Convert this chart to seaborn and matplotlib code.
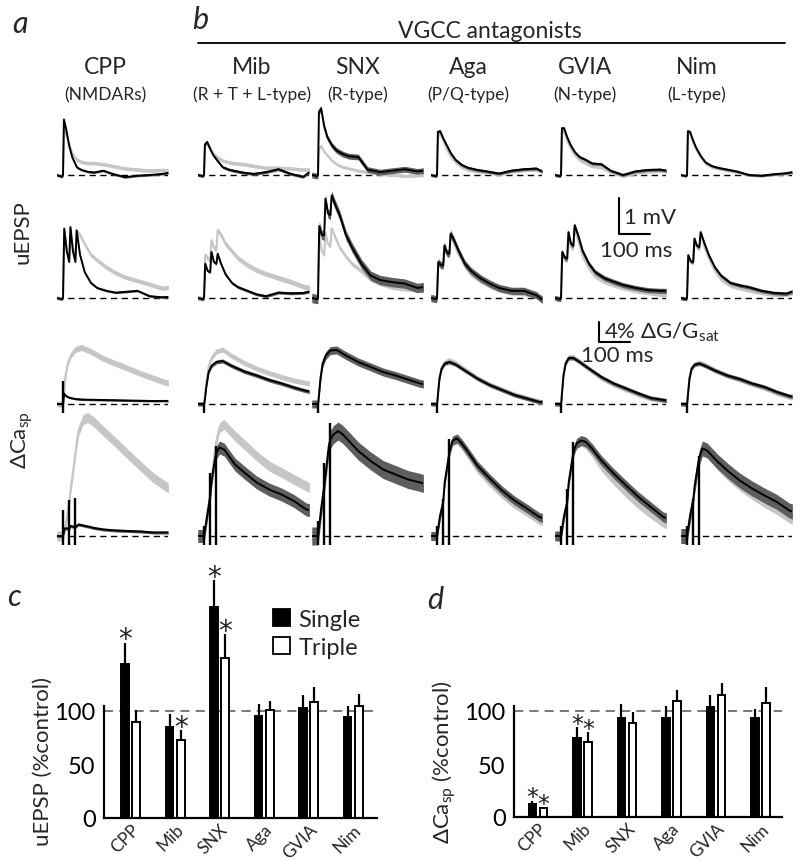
import numpy as np
import pandas as pd
import matplotlib
matplotlib.use("Agg")
import matplotlib.pyplot as plt
import seaborn as sns
from matplotlib.patches import Patch

sns.set_theme(style="white")
plt.rcParams["font.family"] = ["Lato", "DejaVu Sans"]
plt.rcParams["mathtext.fontset"] = "custom"
plt.rcParams["mathtext.rm"] = "Lato"
plt.rcParams["mathtext.it"] = "Lato:italic"

# ---------------- data ----------------
DRUGS = ["CPP", "Mib", "SNX", "Aga", "GVIA", "Nim"]
TARGETS = ["(NMDARs)", "(R + T + L-type)", "(R-type)", "(P/Q-type)", "(N-type)", "(L-type)"]

# uEPSP, single stimulus (mV), one list per drug column
T_EPSP1 = [-20, -3, 0, 3, 10, 20, 30, 45, 60, 80, 100, 130, 160, 200, 240, 280, 320, 340]
EPSP1_CTRL = [
    [0, -0.03, 0, 1.3, 1.15, 0.85, 0.6, 0.42, 0.36, 0.33, 0.33, 0.3, 0.25, 0.18, 0.15, 0.12, 0.14, 0.12],
    [0, -0.02, 0, 0.8, 0.9, 0.75, 0.6, 0.48, 0.4, 0.35, 0.32, 0.3, 0.25, 0.2, 0.2, 0.18, 0.15, 0.15],
    [0, -0.02, 0, 0.75, 0.8, 0.65, 0.55, 0.4, 0.3, 0.22, 0.18, 0.12, 0.08, 0.03, 0.0, -0.03, -0.02, 0.0],
    [0, -0.02, 0, 1.1, 1.15, 0.95, 0.75, 0.5, 0.35, 0.22, 0.15, 0.1, 0.08, 0.03, 0.1, 0.14, 0.15, 0.08],
    [0, -0.02, 0, 1.2, 1.2, 0.95, 0.75, 0.55, 0.42, 0.33, 0.25, 0.22, 0.08, -0.02, 0.06, 0.1, 0.12, 0.1],
    [0, -0.02, 0, 1.15, 1.15, 0.9, 0.7, 0.48, 0.32, 0.22, 0.18, 0.13, 0.08, 0.0, -0.02, 0.02, 0.04, 0.06],
]
EPSP1_DRUG = [
    [0, -0.05, 0, 1.54, 1.28, 0.81, 0.49, 0.21, 0.14, 0.09, 0.07, 0.12, 0.03, -0.06, -0.02, 0.0, 0.03, 0.06],
    [0, -0.03, 0, 0.85, 0.92, 0.72, 0.55, 0.38, 0.22, 0.15, 0.11, 0.06, 0.03, 0.08, 0.16, 0.03, -0.05, 0.08],
    [0, -0.03, 0, 1.75, 1.85, 1.35, 1.05, 0.82, 0.68, 0.58, 0.52, 0.5, 0.15, 0.08, 0.12, 0.16, 0.1, 0.12],
    [0, -0.03, 0, 1.2, 1.22, 1.02, 0.85, 0.6, 0.42, 0.28, 0.2, 0.14, 0.1, 0.04, 0.12, 0.16, 0.18, 0.1],
    [0, -0.03, 0, 1.3, 1.3, 1.05, 0.85, 0.63, 0.5, 0.42, 0.32, 0.3, 0.12, 0.0, 0.1, 0.14, 0.15, 0.12],
    [0, -0.03, 0, 1.22, 1.2, 0.95, 0.75, 0.52, 0.35, 0.25, 0.2, 0.15, 0.1, 0.0, -0.02, 0.02, 0.05, 0.08],
]
EPSP1_SEM_CTRL = [0.05, 0.05, 0.04, 0.05, 0.05, 0.04]
EPSP1_SEM_DRUG = [0.03, 0.04, 0.08, 0.04, 0.04, 0.03]

# uEPSP, triple stimulus (mV)
T_EPSP3 = [-20, -3, 0, 4, 12, 20, 24, 32, 40, 44, 55, 70, 90, 110, 140, 170, 200, 240, 280, 320, 340]
EPSP3_CTRL = [
    [0, -0.02, 0, 1.85, 1.4, 1.1, 1.9, 1.4, 1.15, 1.85, 1.75, 1.5, 1.2, 1.05, 0.85, 0.7, 0.58, 0.48, 0.38, 0.27, 0.3],
    [0, -0.02, 0, 1.2, 1.1, 1.05, 1.6, 1.4, 1.35, 1.88, 1.75, 1.5, 1.3, 1.1, 0.92, 0.77, 0.67, 0.56, 0.45, 0.32, 0.28],
    [0, -0.02, 0, 1.8, 1.3, 1.2, 1.8, 1.5, 1.45, 1.93, 1.7, 1.4, 1.15, 0.95, 0.75, 0.52, 0.4, 0.3, 0.25, 0.22, 0.2],
    [0, -0.02, 0, 0.95, 0.9, 0.88, 1.4, 1.2, 1.2, 1.75, 1.5, 1.2, 0.88, 0.65, 0.47, 0.33, 0.22, 0.14, 0.12, 0.05, 0.0],
    [0, -0.02, 0, 1.2, 1.05, 1.05, 1.75, 1.4, 1.4, 1.95, 1.6, 1.15, 0.82, 0.6, 0.45, 0.36, 0.28, 0.2, 0.15, 0.1, 0.1],
    [0, -0.02, 0, 1.1, 1.0, 0.98, 1.6, 1.4, 1.38, 1.8, 1.45, 1.1, 0.75, 0.52, 0.35, 0.28, 0.22, 0.15, 0.1, 0.1, 0.14],
]
EPSP3_DRUG = [
    [0, -0.03, 0, 1.93, 1.3, 1.0, 1.97, 1.3, 1.0, 1.88, 1.2, 0.72, 0.42, 0.28, 0.2, 0.15, 0.17, 0.2, 0.05, 0.02, 0.03],
    [0, -0.03, 0, 0.95, 0.75, 0.72, 1.28, 1.0, 0.95, 1.23, 0.95, 0.65, 0.42, 0.3, 0.2, 0.1, 0.05, 0.15, 0.13, 0.14, 0.18],
    [0, -0.03, 0, 2.0, 1.75, 1.74, 2.76, 2.35, 2.3, 2.85, 2.6, 2.3, 1.75, 1.4, 0.95, 0.62, 0.5, 0.44, 0.4, 0.28, 0.3],
    [0, -0.03, 0, 1.0, 0.92, 0.9, 1.46, 1.25, 1.23, 1.79, 1.6, 1.3, 0.95, 0.75, 0.55, 0.4, 0.28, 0.2, 0.2, 0.08, -0.05],
    [0, -0.03, 0, 1.28, 1.12, 1.1, 1.83, 1.5, 1.46, 2.02, 1.75, 1.3, 0.95, 0.72, 0.55, 0.45, 0.36, 0.28, 0.22, 0.2, 0.2],
    [0, -0.03, 0, 1.19, 1.02, 1.0, 1.65, 1.45, 1.42, 1.83, 1.55, 1.2, 0.85, 0.62, 0.42, 0.35, 0.3, 0.2, 0.14, 0.12, 0.18],
]
EPSP3_SEM_CTRL = [0.06, 0.07, 0.06, 0.06, 0.06, 0.06]
EPSP3_SEM_DRUG = [0.03, 0.04, 0.13, 0.1, 0.07, 0.05]

# spine Ca, single stimulus (% dG/Gsat)
T_CA1 = [-20, -2, 0, 0.5, 3, 8, 15, 25, 40, 60, 90, 130, 170, 210, 250, 290, 330, 340]
CA1_CTRL = [
    [0, 0, 0, 0, 1.5, 5.5, 8.0, 9.7, 10.9, 11.3, 10.5, 9.1, 8.1, 7.1, 6.1, 5.2, 4.3, 4.2],
    [0, 0, 0, 0, 1.2, 4.5, 7.5, 9.3, 10.5, 10.9, 9.6, 8.2, 7.1, 6.2, 5.4, 4.7, 4.2, 4.1],
    [0, 0, 0, 0, 1.6, 5.0, 8.0, 9.6, 10.6, 10.7, 9.6, 8.3, 7.3, 6.3, 5.6, 4.8, 4.0, 3.9],
    [0, 0, 0, 0, 1.8, 5.3, 7.3, 8.4, 8.8, 8.2, 6.9, 5.2, 3.9, 2.9, 1.9, 1.2, 0.5, 0.4],
    [0, 0, 0, 0, 2.0, 5.8, 8.3, 9.4, 9.4, 8.5, 7.0, 5.2, 3.9, 2.9, 1.9, 1.1, 0.7, 0.6],
    [0, 0, 0, 0, 1.8, 5.2, 7.2, 8.0, 8.3, 7.8, 6.8, 5.7, 4.9, 4.0, 3.2, 2.2, 1.4, 1.3],
]
CA1_DRUG = [
    [0, 0, 0, 0, 2.1, 1.7, 1.4, 1.2, 1.0, 0.9, 0.85, 0.8, 0.75, 0.7, 0.65, 0.6, 0.62, 0.6],
    [0, 0, 0, 0, 1.0, 3.7, 6.4, 7.7, 8.4, 8.6, 7.6, 6.5, 5.7, 4.8, 4.1, 3.3, 2.6, 2.5],
    [0, 0, 0, 0, 1.7, 5.1, 8.1, 9.7, 10.7, 10.8, 9.7, 8.4, 7.4, 6.4, 5.7, 4.9, 4.1, 4.0],
    [0, 0, 0, 0, 1.8, 5.1, 7.1, 8.1, 8.4, 7.9, 6.7, 5.1, 3.8, 2.8, 1.8, 1.1, 0.4, 0.4],
    [0, 0, 0, 0, 2.0, 5.7, 8.1, 9.2, 9.2, 8.4, 7.1, 5.4, 4.1, 3.1, 2.1, 1.2, 0.8, 0.7],
    [0, 0, 0, 0, 1.8, 5.1, 7.1, 7.9, 8.1, 7.6, 6.7, 5.7, 5.0, 4.1, 3.4, 2.4, 1.6, 1.5],
]
CA1_SEM_CTRL = [0.6, 0.5, 0.5, 0.5, 0.5, 0.5]
CA1_SEM_DRUG = [0.2, 0.4, 0.8, 0.4, 0.4, 0.4]
CA1_ART_TOP = [[4.7], [0.0], [0.0], [0.0], [0.0], [0.0]]

# spine Ca, triple stimulus (% dG/Gsat)
T_CA3 = [-20, -2, 0, 5, 10, 20, 25, 35, 40, 50, 65, 80, 100, 130, 170, 210, 250, 290, 330, 340]
CA3_CTRL = [
    [0, 0, 0, 1.0, 2.7, 6.7, 9.5, 14.0, 16.7, 21.0, 23.3, 23.7, 22.8, 21.0, 18.7, 16.3, 14.0, 11.7, 10.0, 9.6],
    [0, 0, 0, 2.0, 4.2, 8.5, 12.0, 17.0, 19.0, 21.7, 22.3, 21.3, 20.0, 18.3, 16.0, 14.0, 12.7, 11.3, 10.0, 9.7],
    [0, 0, 0, 2.5, 5.3, 10.0, 12.7, 18.0, 19.5, 20.8, 21.5, 21.0, 19.8, 17.8, 15.5, 13.5, 12.0, 10.8, 10.0, 9.8],
    [0, 0, 0, 2.0, 4.0, 6.7, 10.6, 14.6, 16.5, 18.8, 19.2, 18.0, 16.2, 13.4, 10.7, 8.3, 6.3, 4.7, 3.1, 2.9],
    [0, 0, 0, 2.0, 4.0, 6.7, 10.6, 14.6, 16.6, 18.3, 18.8, 18.2, 16.6, 13.8, 11.0, 8.5, 6.2, 4.3, 2.5, 2.3],
    [0, 0, 0, 2.0, 4.0, 7.0, 10.0, 14.0, 15.6, 17.2, 16.6, 15.4, 14.0, 12.1, 10.0, 8.2, 6.6, 5.2, 3.5, 3.3],
]
CA3_DRUG = [
    [0, 0, 0, 1.5, 1.5, 1.5, 2.0, 1.8, 1.8, 2.3, 2.1, 1.9, 1.6, 1.3, 1.1, 1.0, 0.9, 0.7, 0.7, 0.7],
    [0, 0, 0, 2.0, 4.0, 8.0, 11.3, 15.3, 16.7, 17.7, 17.3, 16.0, 14.3, 12.7, 10.7, 9.3, 8.3, 7.0, 5.3, 5.2],
    [0, 0, 0, 2.5, 5.3, 10.0, 12.7, 18.0, 19.3, 20.3, 21.0, 20.3, 19.0, 17.0, 15.0, 13.3, 12.3, 11.3, 10.7, 10.5],
    [0, 0, 0, 2.0, 4.1, 6.8, 10.8, 14.8, 16.8, 19.1, 19.5, 18.5, 16.8, 14.1, 11.5, 9.1, 7.1, 5.5, 3.8, 3.6],
    [0, 0, 0, 2.0, 4.1, 6.8, 10.8, 14.8, 16.8, 18.5, 19.1, 18.8, 17.5, 15.1, 12.5, 10.1, 7.8, 5.8, 3.8, 3.6],
    [0, 0, 0, 2.0, 4.1, 7.1, 10.1, 14.1, 15.8, 17.5, 17.1, 16.1, 14.8, 13.1, 11.1, 9.5, 8.1, 6.8, 5.1, 4.9],
]
CA3_SEM_CTRL = [1.0, 1.0, 1.0, 0.8, 0.8, 0.9]
CA3_SEM_DRUG = [0.3, 1.3, 1.8, 0.9, 1.0, 1.5]
CA3_ART_TOP = [[5.3, 7.3, 7.7], [2.0, 12.7, 18.0], [3.0, 14.7, 22.7],
               [2.0, 7.5, 19.5], [2.0, 9.5, 18.8], [2.0, 7.5, 16.1]]
STIM_TIMES = [0, 20, 40]
ART_BOTTOM = -1.7

# summary bars (% of control) and one-sided SEM
EPSP_SINGLE = [144, 85, 197, 95, 103, 94]
EPSP_SINGLE_ERR = [20, 12, 25, 12, 12, 11]
EPSP_TRIPLE = [90, 73, 150, 101, 108, 105]
EPSP_TRIPLE_ERR = [11, 9, 22, 8, 14, 11]
EPSP_SIG_SINGLE = [True, False, True, False, False, False]
EPSP_SIG_TRIPLE = [False, True, True, False, False, False]

CA_SINGLE = [12.5, 75, 93, 93, 104, 93]
CA_SINGLE_ERR = [3, 10, 14, 12, 11, 9]
CA_TRIPLE = [8.5, 71, 89, 109, 115, 108]
CA_TRIPLE_ERR = [1, 9, 10, 11, 11, 15]
CA_SIG_SINGLE = [True, True, False, False, False, False]
CA_SIG_TRIPLE = [True, True, False, False, False, False]

# ---------------- layout (pixels) ----------------
W, H = 800, 862
GREY = "#c6c6c6"
DARK = "#5e5e5e"
COL_X = [63, 204, 318, 437, 561, 687]   # stimulus onset of each column
PX_PER_MS = 0.31
MV_PX = 36
PCT_PX = 5
T_MIN, T_MAX = -20, 340

fig = plt.figure(figsize=(W / 100, H / 100), dpi=100)


def px_axes(left, top, width, height):
    return fig.add_axes([left / W, 1 - (top + height) / H, width / W, height / H])


def trace_panel(col, tgrid, ctrl, drug, sc, sd, ylim, base_px, unit_px, arts=None):
    left = COL_X[col] + T_MIN * PX_PER_MS
    top = base_px - ylim[1] * unit_px
    ax = px_axes(left, top, (T_MAX - T_MIN) * PX_PER_MS, (ylim[1] - ylim[0]) * unit_px)
    ax.set_xlim(T_MIN, T_MAX)
    ax.set_ylim(*ylim)
    ax.axis("off")
    t = np.asarray(tgrid, float)
    c = np.asarray(ctrl, float)
    d = np.asarray(drug, float)
    ax.hlines(0, T_MIN, T_MAX, colors="black", linestyles=(0, (4.5, 3.2)), lw=1.0, zorder=1)
    ax.fill_between(t, c - sc, c + sc, color=GREY, lw=0, zorder=2)
    sns.lineplot(x=t, y=c, ax=ax, color=GREY, lw=1.5, sort=False, estimator=None, zorder=2)
    ax.fill_between(t, d - sd, d + sd, color=DARK, lw=0, zorder=3)
    sns.lineplot(x=t, y=d, ax=ax, color="black", lw=1.4, sort=False, estimator=None, zorder=4)
    if arts is not None:
        ax.vlines(STIM_TIMES[:len(arts)], ART_BOTTOM, arts, colors="black", lw=1.7, zorder=5)
    return ax


rows = [
    (T_EPSP1, EPSP1_CTRL, EPSP1_DRUG, EPSP1_SEM_CTRL, EPSP1_SEM_DRUG, (-0.3, 2.2), 176, MV_PX, None),
    (T_EPSP3, EPSP3_CTRL, EPSP3_DRUG, EPSP3_SEM_CTRL, EPSP3_SEM_DRUG, (-0.3, 3.1), 299, MV_PX, None),
    (T_CA1, CA1_CTRL, CA1_DRUG, CA1_SEM_CTRL, CA1_SEM_DRUG, (-2.5, 12.5), 405, PCT_PX, CA1_ART_TOP),
    (T_CA3, CA3_CTRL, CA3_DRUG, CA3_SEM_CTRL, CA3_SEM_DRUG, (-2.5, 25.0), 537, PCT_PX, CA3_ART_TOP),
]
for tg, cl, dl, sc, sd, yl, base, unit, arts in rows:
    for i in range(len(DRUGS)):
        trace_panel(i, tg, cl[i], dl[i], sc[i], sd[i], yl, base, unit,
                    None if arts is None else arts[i])


# ---------------- bar panels ----------------
def bar_panel(left, right, base_px, px_per_unit, x0_px, step_px,
              single, s_err, triple, t_err, sig_s, sig_t, ylabel, label_x, star_size):
    top = base_px - 230 * px_per_unit
    ax = px_axes(left, top, right - left, base_px - top)
    df = pd.DataFrame({
        "drug": DRUGS * 2,
        "stim": ["Single"] * len(DRUGS) + ["Triple"] * len(DRUGS),
        "val": single + triple,
    })
    sns.barplot(data=df, x="drug", y="val", hue="stim", order=DRUGS,
                palette={"Single": "black", "Triple": "white"},
                edgecolor="black", linewidth=1.4, width=0.5, gap=0.3,
                errorbar=None, legend=False, ax=ax)
    ax.set_xlim((left - x0_px) / step_px, (right - x0_px) / step_px)
    ax.set_ylim(0, 230)
    bars = sorted(ax.patches, key=lambda p: p.get_x())
    vals = [v for pair in zip(single, triple) for v in pair]
    errs = [e for pair in zip(s_err, t_err) for e in pair]
    sigs = [s for pair in zip(sig_s, sig_t) for s in pair]
    for p, v, e, s in zip(bars, vals, errs, sigs):
        xc = p.get_x() + p.get_width() / 2
        ax.vlines(xc, v, v + e, colors="black", lw=1.6, zorder=1)
        if s:
            ax.text(xc, v + e + 3, "*", ha="center", va="center", fontsize=star_size,
                    family="DejaVu Sans", color="#222222")
    ax.axhline(100, color="#555555", lw=1.1, ls=(0, (6, 4)), zorder=0)
    sns.despine(ax=ax)
    ax.spines["left"].set_bounds(0, 105)
    for sp in ("left", "bottom"):
        ax.spines[sp].set_linewidth(1.6)
        ax.spines[sp].set_color("black")
    ax.set_yticks([0, 50, 100])
    ax.tick_params(axis="y", direction="out", length=4, width=1.6, labelsize=17, pad=2, colors="black")
    ax.tick_params(axis="x", length=0, labelsize=12.5, pad=2)
    ax.set_xticks(range(len(DRUGS)))
    ax.set_xticklabels(DRUGS, rotation=45, ha="right", rotation_mode="anchor")
    ax.set_xlabel("")
    ax.set_ylabel(ylabel, fontsize=16)
    ax.yaxis.set_label_coords((label_x - left) / (right - left), (base_px - 762) / (base_px - top))
    return ax


axc = bar_panel(104, 377, 819, 1.07, 130.6, 44.5, EPSP_SINGLE, EPSP_SINGLE_ERR,
                EPSP_TRIPLE, EPSP_TRIPLE_ERR, EPSP_SIG_SINGLE, EPSP_SIG_TRIPLE,
                "uEPSP (%control)", 53, 20)
axd = bar_panel(514, 782, 818, 1.06, 538, 44.5, CA_SINGLE, CA_SINGLE_ERR,
                CA_TRIPLE, CA_TRIPLE_ERR, CA_SIG_SINGLE, CA_SIG_TRIPLE,
                "ΔCa$_{\\mathrm{sp}}$ (%control)", 458, 17)

axc.legend(handles=[Patch(facecolor="black", edgecolor="black", lw=1.3, label="Single"),
                    Patch(facecolor="white", edgecolor="black", lw=1.3, label="Triple")],
           loc="upper left", bbox_to_anchor=((273 - 104) / 273, (819 - 610) / (819 - 573)),
           frameon=False, fontsize=17, handlelength=0.72, handleheight=0.72,
           handletextpad=0.35, labelspacing=0.3, borderpad=0, borderaxespad=0)

# ---------------- overlay: labels and scale bars ----------------
ov = px_axes(0, 0, W, H)
ov.set_xlim(0, W)
ov.set_ylim(H, 0)
ov.axis("off")
ov.patch.set_alpha(0)

for letter, x, y in [("a", 20, 24), ("b", 200, 20), ("c", 14, 597), ("d", 435, 600)]:
    ov.text(x, y, letter, fontsize=22, style="italic", ha="center", va="center")

ov.text(490, 32, "VGCC antagonists", fontsize=16.5, ha="center", va="center")
ov.plot([198, 785], [44, 44], color="black", lw=1.3)
TITLE_X = [105, 252, 358, 468, 585, 697]
for x, name, tgt in zip(TITLE_X, DRUGS, TARGETS):
    ov.text(x, 67, name, fontsize=16.5, ha="center", va="center")
    ov.text(x, 95, tgt, fontsize=12.5, ha="center", va="center")

ov.text(22, 232, "uEPSP", fontsize=16, rotation=90, ha="center", va="center")
ov.text(22, 440, "ΔCa$_{\\mathrm{sp}}$", fontsize=16, rotation=90, ha="center", va="center")

# scale bars: 1 mV / 100 ms and 4 % / 100 ms
sx, sy = 619, 235
ov.plot([sx, sx, sx + 100 * PX_PER_MS], [sy - MV_PX, sy, sy], color="black", lw=1.5)
ov.text(sx + 5, 218, "1 mV", fontsize=16, ha="left", va="center")
ov.text(636, 251, "100 ms", fontsize=16, ha="center", va="center")
cx, cy = 599, 343
ov.plot([cx, cx, cx + 100 * PX_PER_MS], [cy - 4 * PCT_PX, cy, cy], color="black", lw=1.5)
ov.text(cx + 5, 332, "4% ΔG/G$_{\\mathrm{sat}}$", fontsize=16, ha="left", va="center")
ov.text(617, 356, "100 ms", fontsize=16, ha="center", va="center")

fig.savefig("out.png", dpi=100)
